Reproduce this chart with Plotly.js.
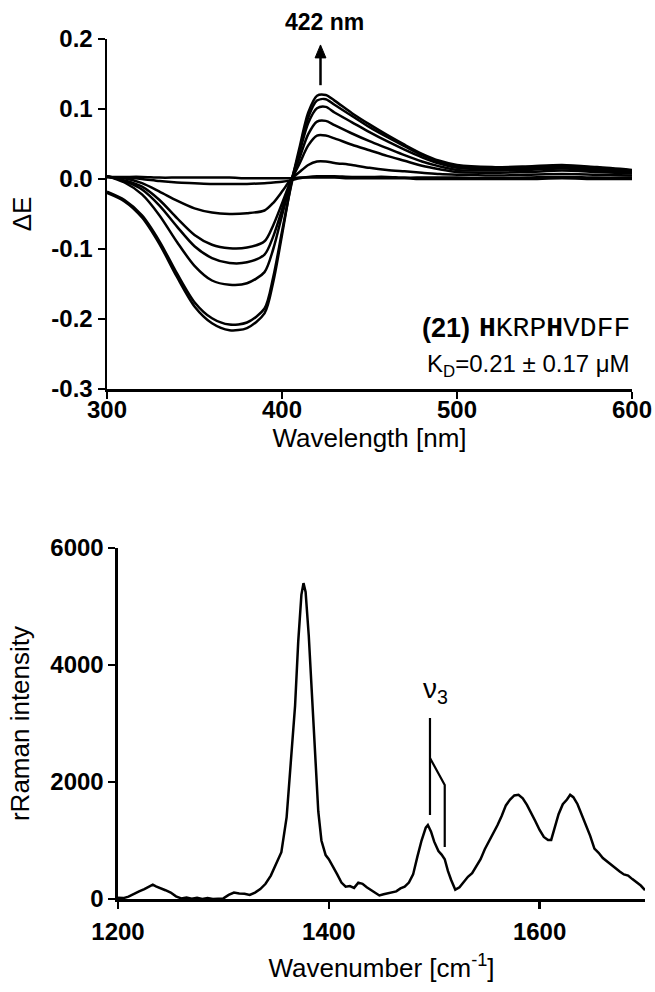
<!DOCTYPE html>
<html><head><meta charset="utf-8">
<script src="https://cdn.plot.ly/plotly-3.0.1.min.js"></script>
<style>html,body{margin:0;padding:0;background:#fff}</style>
</head><body><div id="chart" style="width:655px;height:992px"></div>
<script>
// ---- Top panel: difference spectra (ΔE vs wavelength) ----
const wavelength = [300,310,320,330,340,350,360,370,380,390,395,400,405,410,415,420,425,430,440,450,460,470,480,490,500,520,540,560,580,600];
const dE_1 = [-0.020,-0.032,-0.055,-0.093,-0.140,-0.182,-0.206,-0.216,-0.213,-0.192,-0.147,-0.080,-0.010,0.045,0.095,0.119,0.120,0.112,0.094,0.078,0.063,0.049,0.036,0.026,0.020,0.017,0.018,0.020,0.017,0.013];
const dE_2 = [-0.018,-0.030,-0.052,-0.089,-0.135,-0.176,-0.199,-0.208,-0.205,-0.185,-0.140,-0.075,-0.012,0.040,0.088,0.112,0.114,0.106,0.090,0.074,0.060,0.047,0.034,0.024,0.018,0.016,0.017,0.019,0.016,0.012];
const dE_3 = [0.004,-0.005,-0.022,-0.052,-0.090,-0.124,-0.145,-0.151,-0.149,-0.133,-0.100,-0.052,-0.005,0.038,0.080,0.101,0.103,0.095,0.081,0.067,0.054,0.042,0.031,0.022,0.016,0.014,0.015,0.017,0.014,0.011];
const dE_4 = [0.004,-0.003,-0.015,-0.038,-0.068,-0.096,-0.113,-0.120,-0.119,-0.108,-0.082,-0.044,-0.004,0.030,0.064,0.082,0.083,0.077,0.065,0.054,0.044,0.034,0.025,0.018,0.013,0.012,0.013,0.015,0.012,0.010];
const dE_5 = [0.004,-0.002,-0.011,-0.030,-0.056,-0.080,-0.094,-0.099,-0.098,-0.089,-0.066,-0.035,-0.003,0.022,0.048,0.062,0.062,0.058,0.049,0.041,0.033,0.026,0.019,0.014,0.010,0.009,0.010,0.012,0.010,0.008];
const dE_6 = [0.003,0.001,-0.006,-0.018,-0.031,-0.042,-0.048,-0.050,-0.049,-0.045,-0.034,-0.018,-0.001,0.010,0.020,0.025,0.025,0.023,0.020,0.016,0.013,0.011,0.009,0.007,0.006,0.005,0.006,0.007,0.006,0.005];
const dE_7 = [0.003,0.002,0.000,-0.003,-0.005,-0.006,-0.007,-0.007,-0.007,-0.006,-0.005,-0.004,-0.002,0.001,0.003,0.004,0.004,0.004,0.003,0.003,0.003,0.002,0.002,0.002,0.002,0.001,0.002,0.003,0.002,0.002];
const dE_8 = [0.003,0.003,0.003,0.002,0.002,0.002,0.002,0.002,0.001,0.001,0.001,0.001,0.001,0.002,0.002,0.002,0.002,0.002,0.001,0.001,0.001,0.001,0.000,0.000,0.000,0.000,0.000,0.001,0.000,0.000];
const uvSeries = [dE_1, dE_2, dE_3, dE_4, dE_5, dE_6, dE_7, dE_8];
const uvXTicks = [300,400,500,600];
const uvXTickText = ['300','400','500','600'];
const uvYTicks = [-0.3,-0.2,-0.1,0.0,0.1,0.2];
const uvYTickText = ['-0.3','-0.2','-0.1','0.0','0.1','0.2'];

// ---- Bottom panel: resonance Raman spectrum ----
const wavenumber = [1200,1205,1210,1215,1220,1225,1230,1233,1236,1240,1245,1250,1255,1260,1265,1270,1275,1280,1285,1290,1295,1300,1305,1310,1315,1320,1325,1330,1335,1340,1345,1350,1355,1360,1365,1368,1371,1374,1376,1378,1381,1384,1387,1390,1393,1397,1400,1404,1408,1412,1416,1420,1424,1428,1432,1436,1440,1444,1448,1452,1456,1460,1464,1468,1472,1476,1480,1484,1488,1492,1494,1497,1500,1504,1507,1510,1513,1516,1520,1524,1528,1532,1536,1540,1544,1548,1552,1556,1560,1564,1568,1572,1576,1580,1584,1588,1592,1596,1600,1604,1608,1611,1614,1618,1622,1626,1629,1632,1636,1640,1644,1648,1652,1656,1660,1664,1668,1672,1676,1680,1684,1688,1692,1696,1700];
const ramanIntensity = [20,15,40,90,130,170,220,245,215,190,150,110,45,10,25,5,20,0,15,0,5,10,70,110,95,90,70,110,170,260,400,600,800,1400,2600,3300,4400,5200,5400,5250,4500,3500,2300,1500,1000,750,680,560,420,280,210,220,190,280,260,200,150,100,60,80,100,110,130,180,210,280,420,720,1000,1220,1265,1150,980,820,760,680,480,330,160,200,290,380,440,560,680,850,980,1130,1260,1420,1600,1700,1770,1780,1720,1610,1480,1330,1180,1060,1010,1010,1200,1450,1620,1700,1780,1740,1620,1450,1270,1080,860,790,700,640,590,520,470,420,400,340,290,230,150];
const ramanXTicks = [1200,1400,1600];
const ramanXTickText = ['1200','1400','1600'];
const ramanYTicks = [0,2000,4000,6000];
const ramanYTickText = ['0','2000','4000','6000'];

const FONT = "Arial, 'Liberation Sans', sans-serif";
const MONO = "'Liberation Mono', 'Courier New', monospace";
const traces = uvSeries.map(s => ({
  x: wavelength, y: s, xaxis: 'x', yaxis: 'y', type: 'scatter', mode: 'lines',
  line: {color: '#000', width: 2.5, shape: 'spline', smoothing: 0.8}, showlegend: false, hoverinfo: 'skip'
}));
traces.push({
  x: wavenumber, y: ramanIntensity, xaxis: 'x2', yaxis: 'y2', type: 'scatter', mode: 'lines',
  line: {color: '#000', width: 2.5}, showlegend: false, hoverinfo: 'skip'
});

const axisCommon = {
  showline: true, linecolor: '#000', linewidth: 2.5, mirror: false,
  ticks: 'outside', ticklen: 7, tickwidth: 2.5, tickcolor: '#000',
  showgrid: false, zeroline: false, tickmode: 'array',
  tickfont: {family: FONT, size: 24, color: '#000', weight: 700}
};

const layout = {
  width: 655, height: 992,
  margin: {l: 0, r: 0, t: 0, b: 0},
  paper_bgcolor: '#fff', plot_bgcolor: '#fff',
  font: {family: FONT, color: '#000'},
  xaxis: Object.assign({}, axisCommon, {
    domain: [0.16336, 0.96489], range: [300, 600], anchor: 'y',
    tickvals: uvXTicks, ticktext: uvXTickText, ticklabelstandoff: -9,
    title: {text: 'Wavelength [nm]', font: {family: FONT, size: 26, color: '#000'}, standoff: 4}
  }),
  yaxis: Object.assign({}, axisCommon, {
    domain: [0.60786, 0.96069], range: [-0.3, 0.2], anchor: 'x',
    tickvals: uvYTicks, ticktext: uvYTickText,
    title: {text: 'ΔE', font: {family: FONT, size: 26, color: '#000'}, standoff: 12}
  }),
  xaxis2: Object.assign({}, axisCommon, {
    domain: [0.18015, 0.98473], range: [1200, 1700], anchor: 'y2',
    tickvals: ramanXTicks, ticktext: ramanXTickText, ticklabelstandoff: 3,
    title: {text: 'Wavenumber [cm<sup>-1</sup>]', font: {family: FONT, size: 26, color: '#000'}, standoff: 15}
  }),
  yaxis2: Object.assign({}, axisCommon, {
    domain: [0.09375, 0.44758], range: [0, 6000], anchor: 'x2',
    tickvals: ramanYTicks, ticktext: ramanYTickText,
    title: {text: 'rRaman intensity', font: {family: FONT, size: 26, color: '#000'}, standoff: 13}
  }),
  annotations: [
    {xref: 'x', yref: 'paper', x: 424.5, y: 0.9778, text: '<b>422 nm</b>', showarrow: false,
     xanchor: 'center', yanchor: 'middle', font: {family: FONT, size: 23, color: '#000'}},
    {xref: 'x domain', yref: 'y', x: 1.0, y: -0.213, xanchor: 'right', yanchor: 'middle', showarrow: false,
     text: '<b>H</b>KRP<b>H</b>VDFF', font: {family: MONO, size: 28, color: '#000'}},
    {xref: 'x domain', yref: 'y', x: 1.0, y: -0.213, xanchor: 'right', yanchor: 'middle', showarrow: false,
     xshift: -160, text: '<b>(21)</b>', font: {family: FONT, size: 27, color: '#000'}},
    {xref: 'x domain', yref: 'y', x: 1.0, y: -0.266, xanchor: 'right', yanchor: 'middle', showarrow: false,
     text: 'K<sub>D</sub>=0.21 ± 0.17 μM', font: {family: FONT, size: 24, color: '#000'}},
    {xref: 'x2', yref: 'y2', x: 1501, y: 3560, xanchor: 'center', yanchor: 'middle', showarrow: false,
     text: 'ν<sub>3</sub>', font: {family: FONT, size: 28, color: '#000'}}
  ],
  shapes: [
    {type: 'line', xref: 'x', yref: 'y', x0: 422, y0: 0.134, x1: 422, y1: 0.176, line: {color: '#000', width: 2.5}},
    {type: 'path', xref: 'x', yref: 'y', path: 'M418.9,0.173 L422,0.1915 L425.1,0.173 Z', fillcolor: '#000', line: {color: '#000', width: 1}},
    {type: 'line', xref: 'x2', yref: 'y2', x0: 1496, y0: 3094, x1: 1496, y1: 1436, line: {color: '#000', width: 2.2}},
    {type: 'path', xref: 'x2', yref: 'y2', path: 'M1496,2410 L1510,1949 L1510,889', line: {color: '#000', width: 2.2}}
  ]
};

Plotly.newPlot('chart', traces, layout, {staticPlot: true, displayModeBar: false});
</script>
</body></html>
